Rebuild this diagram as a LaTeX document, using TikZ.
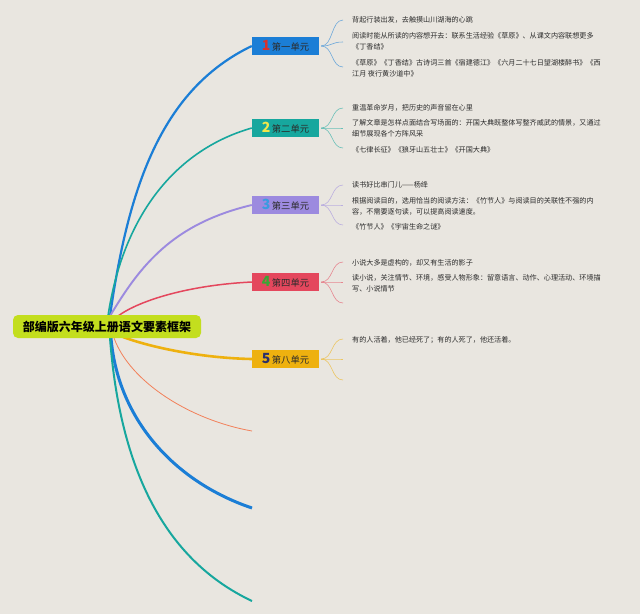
\documentclass[tikz,border=0pt]{standalone}
\usepackage{fontspec}
\setmainfont{Noto Sans CJK SC}
\definecolor{bg}{HTML}{E9E6E0}
\definecolor{cA}{HTML}{1B7ED6}
\definecolor{cB}{HTML}{17A79E}
\definecolor{cC}{HTML}{9C8ADF}
\definecolor{cD}{HTML}{E4475D}
\definecolor{cE}{HTML}{EEB10F}
\definecolor{cF}{HTML}{F2805A}
\definecolor{nA}{HTML}{D8312D}
\definecolor{nB}{HTML}{F2E64A}
\definecolor{nC}{HTML}{3A9BE0}
\definecolor{nD}{HTML}{3AA635}
\definecolor{nE}{HTML}{2A2F6A}
\definecolor{rootc}{HTML}{C3DE1E}
\definecolor{txt}{HTML}{2B2B2B}
\pgfdeclarelayer{bglayer}
\pgfdeclarelayer{curvelayer}
\pgfsetlayers{bglayer,curvelayer,main}
\begin{document}
\begin{tikzpicture}[x=1pt,y=-1pt,
  unitbox/.style={minimum width=67pt,minimum height=18pt,inner sep=0pt,text=txt,font=\fontsize{9.3}{10}\selectfont},
  item/.style={anchor=west,inner sep=0pt,align=left,text=txt,font=\fontsize{7.1}{11}\selectfont},
  twig/.style={line width=0.6pt}]
\useasboundingbox (0,0) rectangle (640,614);
\begin{pgfonlayer}{bglayer}
\fill[bg] (0,0) rectangle (640,614);
\end{pgfonlayer}

% root
\node[fill=rootc,rounded corners=5pt,minimum width=188pt,minimum height=23pt,inner sep=0pt,font=\fontsize{12}{13}\selectfont\bfseries] (root) at (107,326.5) {部编版六年级上册语文要素框架};

% units
\node[unitbox,fill=cA] (u1) at (285.5,46) {{\fontsize{14}{14}\selectfont\bfseries\color{nA}1}\,第一单元};
\node[unitbox,fill=cB] (u2) at (285.5,128) {{\fontsize{14}{14}\selectfont\bfseries\color{nB}2}\,第二单元};
\node[unitbox,fill=cC] (u3) at (285.5,205) {{\fontsize{14}{14}\selectfont\bfseries\color{nC}3}\,第三单元};
\node[unitbox,fill=cD] (u4) at (285.5,282) {{\fontsize{14}{14}\selectfont\bfseries\color{nD}4}\,第四单元};
\node[unitbox,fill=cE] (u5) at (285.5,359) {{\fontsize{14}{14}\selectfont\bfseries\color{nE}5}\,第八单元};

% start / free-end coordinates
\coordinate (s1) at (110,316);
\coordinate (s2) at (108,316);
\coordinate (s3) at (110,316);
\coordinate (s4) at (118,316);
\coordinate (s5) at (123,337);
\coordinate (s6) at (114,338);
\coordinate (s7) at (111,338);
\coordinate (s8) at (110,338);
\coordinate (f6) at (252,431);
\coordinate (f7) at (252,508);
\coordinate (f8) at (252,601);

% main branches
\begin{pgfonlayer}{curvelayer}
\draw[cA,line width=2.2pt] (s1) .. controls (128,190) and (160,90) .. (u1.west);
\draw[cB,line width=1.6pt] (s2) .. controls (123,216) and (175,150) .. (u2.west);
\draw[cC,line width=1.9pt] (s3) .. controls (140,266) and (172,224) .. (u3.west);
\draw[cD,line width=1.5pt] (s4) .. controls (140,300) and (190,285) .. (u4.west);
\draw[cE,line width=2.6pt] (s5) .. controls (150,347) and (200,358) .. (u5.west);
\draw[cF,line width=0.8pt] (s6) .. controls (130,382) and (190,420) .. (f6);
\draw[cA,line width=3pt] (s7) .. controls (118,420) and (175,482) .. (f7);
\draw[cB,line width=2pt] (s8) .. controls (120,470) and (165,560) .. (f8);
\end{pgfonlayer}

% twig end coordinates
\coordinate (e11) at (343,20);  \coordinate (e12) at (343,42);  \coordinate (e13) at (343,67);
\coordinate (e21) at (343,108); \coordinate (e22) at (343,128); \coordinate (e23) at (343,148);
\coordinate (e31) at (343,185); \coordinate (e32) at (343,205); \coordinate (e33) at (343,225);
\coordinate (e41) at (343,262); \coordinate (e42) at (343,282); \coordinate (e43) at (343,303);
\coordinate (e51) at (343,339); \coordinate (e52) at (343,359); \coordinate (e53) at (343,380);

\foreach \u/\c in {1/cA,2/cB,3/cC,4/cD,5/cE}{
  \foreach \k in {1,2,3}{
    \draw[twig,\c!60!bg] ([xshift=2pt]u\u.east) .. controls +(12,0) and +(-12,0) .. (e\u\k);
  }
}

% texts
\node[item] (t11) at (352,20) {背起行装出发，去触摸山川湖海的心跳};
\node[item] (t12) at (352,41.5) {阅读时能从所读的内容想开去：联系生活经验《草原》、从课文内容联想更多\\《丁香结》};
\node[item] (t13) at (352,68.5) {《草原》《丁香结》古诗词三首《宿建德江》《六月二十七日望湖楼醉书》《西\\江月 夜行黄沙道中》};

\node[item] (t21) at (352,108) {重温革命岁月，把历史的声音留在心里};
\node[item] (t22) at (352,128) {了解文章是怎样点面结合写场面的：开国大典既整体写整齐威武的情景，又通过\\细节展现各个方阵风采};
\node[item] (t23) at (352,150) {《七律长征》《狼牙山五壮士》《开国大典》};

\node[item] (t31) at (352,185) {读书好比串门儿——杨绛};
\node[item] (t32) at (352,206.5) {根据阅读目的，选用恰当的阅读方法：《竹节人》与阅读目的关联性不强的内\\容，不需要逐句读，可以提高阅读速度。};
\node[item] (t33) at (352,227) {《竹节人》《宇宙生命之谜》};

\node[item] (t41) at (352,263) {小说大多是虚构的，却又有生活的影子};
\node[item] (t42) at (352,283) {读小说，关注情节、环境，感受人物形象：留意语言、动作、心理活动、环境描\\写、小说情节};

\node[item] (t51) at (352,340) {有的人活着，他已经死了；有的人死了，他还活着。};
\end{tikzpicture}
\end{document}
